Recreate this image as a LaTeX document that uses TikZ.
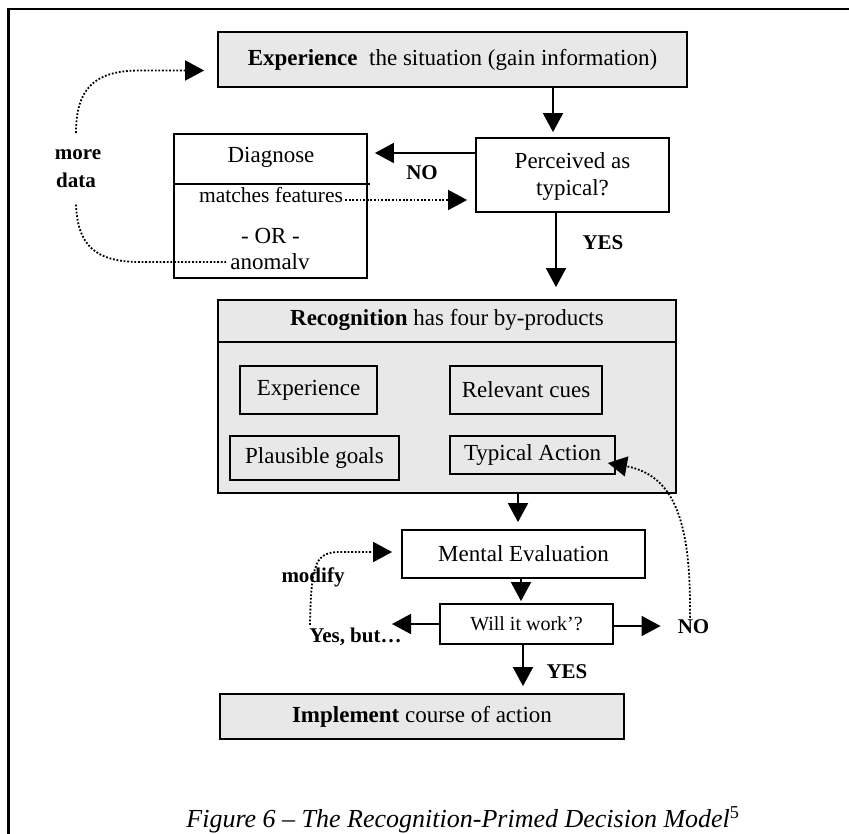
\documentclass[tikz,border=0pt]{standalone}
\usepackage{fontspec}
\setmainfont{Liberation Serif}
\usetikzlibrary{arrows.meta,calc}
\definecolor{panel}{RGB}{232,232,232}
\begin{document}
\begin{tikzpicture}[x=1pt,y=-1pt,
  box/.style={draw, line width=1.8pt, inner sep=0pt, align=center,
    font=\fontsize{23}{27}\selectfont},
  shaded/.style={box, fill=panel},
  txt/.style={inner sep=0pt, font=\fontsize{23}{27}\selectfont},
  lbl/.style={inner sep=0pt, font=\fontsize{21}{25}\selectfont\bfseries},
  tip/.style={-{Triangle[length=19pt,width=20pt]}},
  arr/.style={line width=1.8pt, tip},
  dots/.style={line width=1.8pt, dash pattern=on 1.8pt off 1.8pt},
  dotarr/.style={dots, tip},
]
\useasboundingbox (0,0) rectangle (849,833);

% page frame (only its top and left sides fall on the page)
\draw[line width=2.4pt] (8.3,840) -- (8.3,8.7) -- (860,8.7);

% main flow boxes
\node[shaded, minimum width=469, minimum height=55] (exp) at (452.5,59.5)
  {\textbf{Experience}\ \ the situation (gain information)};
\node[box, minimum width=193, minimum height=74] (perc) at (572.5,175)
  {\strut Perceived as\\[0pt]typical?};

% diagnose box with its divider and entries
\node[box, minimum width=193, minimum height=144] (diag) at (270.5,206) {};
\draw[line width=1.8pt] (diag.west |- 0,184) -- (370,184);
\node[txt] (dg) at (271,157) {Diagnose};
\node[txt, font=\fontsize{21.5}{25}\selectfont] (mf) at (271,195) {matches features};
\node[txt] (or) at (270.5,236) {- OR -};
\node[txt] (an) at (270,262) {anomalv};

% recognition panel
\node[shaded, minimum width=458, minimum height=193] (rec) at (447,396.5) {};
\draw[line width=1.8pt] (rec.west |- 0,342) -- (rec.east |- 0,342);
\node[txt] (rech) at (447,320) {\textbf{Recognition} has four by-products};
\node[box, minimum width=137, minimum height=48] (bxexp) at (308.5,390) {Experience};
\node[box, minimum width=152, minimum height=48] (cues) at (526,390) {Relevant cues};
\node[box, minimum width=169, minimum height=44] (goals) at (314.5,458) {Plausible goals};
\node[box, minimum width=165, minimum height=38] (ta) at (532.5,455) {Typical Action};

% evaluation and implementation
\node[box, minimum width=243, minimum height=48] (me) at (523.5,554) {Mental Evaluation};
\node[box, minimum width=173, minimum height=40, font=\fontsize{20}{24}\selectfont]
  (wiw) at (526.5,624) {Will it work’?};
\node[shaded, minimum width=404, minimum height=45] (impl) at (422,716.5)
  {\textbf{Implement} course of action};

% labels
\node[lbl] (no1) at (422,173) {NO};
\node[lbl] (yes1) at (603,243) {YES};
\node[lbl] (more) at (78,155) {more};
\node[lbl] (data) at (76,180) {data};
\node[lbl] (mod) at (313,577) {modify};
\node[lbl] (yb) at (355.5,637) {Yes, but…};
\node[lbl] (no2) at (693.5,627) {NO};
\node[lbl] (yes2) at (567,672) {YES};

% caption
\node[inner sep=0pt, font=\fontsize{26}{30}\selectfont\itshape] (cap) at (463,820)
  {Figure 6 – The Recognition-Primed Decision Model\textsuperscript{\upshape 5}};

% x positions of the vertical connectors, and free arrow ends
\coordinate (xa) at (553,0);
\coordinate (xb) at (556,0);
\coordinate (xc) at (518,0);
\coordinate (xd) at (521,0);
\coordinate (xe) at (523,0);
\coordinate (ltip) at (392,624);
\coordinate (mdtop) at (76,133);
\coordinate (mdbot) at (76,203);

% solid connectors
\draw[arr, shorten >=5pt] (exp.south -| xa) -- (perc.north -| xa);
\draw[arr, shorten >=7pt] (perc.west |- 0,153) -- (diag.east |- 0,153);
\draw[arr, shorten >=12pt] (perc.south -| xb) -- (rec.north -| xb);
\draw[arr, shorten >=7pt] (rec.south -| xc) -- (me.north -| xc);
\draw[arr, shorten >=2pt] (me.south -| xd) -- (wiw.north -| xd);
\draw[arr] (wiw.west) -- (ltip);
\draw[arr, shorten >=17pt] (wiw.east |- 0,626) -- (no2.west |- 0,626);
\draw[arr, shorten >=7pt] (wiw.south -| xe) -- (impl.north -| xe);

% dotted feedback connectors
\draw[dotarr, shorten >=8pt] ([xshift=2pt,yshift=-5pt]mf.east)
  -- ([yshift=-5pt]mf.east -| perc.west);
\draw[dotarr, shorten >=13pt] (mdtop)
  .. controls (76,88) and (95,70.5) .. (140,70.5) -- (exp.west |- 0,70.5);
\draw[dots] ([xshift=-4pt]an.west) -- (140,262)
  .. controls (95,262) and (77,245) .. (mdbot);
\draw[dotarr, shorten >=9pt] ([yshift=3pt]yb.north -| 310,0)
  .. controls (311,562) and (316,552) .. (340,552) -- ([yshift=2pt]me.west);
\draw[dotarr] ([yshift=2pt]no2.north -| 690,0)
  .. controls (691,525) and (676,478) .. (630,467)
  -- ([xshift=-8pt,yshift=-8pt]ta.east);
\end{tikzpicture}
\end{document}
